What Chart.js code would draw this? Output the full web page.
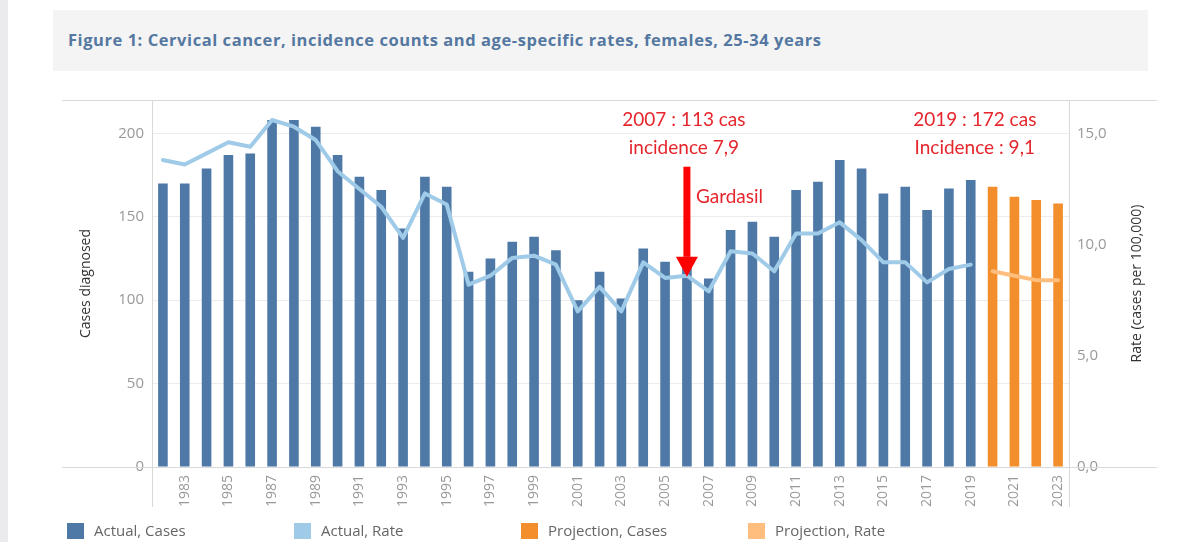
<!DOCTYPE html>
<html>
<head>
<meta charset="utf-8">
<script src="https://cdn.jsdelivr.net/npm/chart.js@4.4.1/dist/chart.umd.min.js"></script>
<style>
  html, body { margin:0; padding:0; background:#ffffff; }
  body { width:1198px; height:542px; position:relative; overflow:hidden; font-family:"Open Sans", sans-serif; }
  #strip { position:absolute; left:0; top:0; width:8px; height:542px; background:#ebebed; }
  #titlebox { position:absolute; left:53px; top:10px; width:1095px; height:61px; background:#f4f4f4; }
  #title { position:absolute; left:15px; top:18px; font-family:"Open Sans", sans-serif; font-weight:700; font-size:16.5px; letter-spacing:0.55px; color:#5478a1; white-space:nowrap; }
  #c { position:absolute; left:0; top:0; }
  .leg { position:absolute; top:523px; height:16px; font-family:"Open Sans", sans-serif; font-size:15px; color:#666; white-space:nowrap; }
  .leg span.sw { position:absolute; left:0; top:0; width:17px; height:16px; }
  .leg span.tx { position:absolute; left:27px; top:-3px; line-height:20px; }
</style>
</head>
<body>
<div id="strip"></div>
<div id="titlebox"><div id="title">Figure 1: Cervical cancer, incidence counts and age-specific rates, females, 25-34 years</div></div>
<canvas id="c" width="1198" height="542"></canvas>
<div id="legend"></div>
<script>
// ---- Data ----
const years = ['1982','1983','1984','1985','1986','1987','1988','1989','1990','1991',
  '1992','1993','1994','1995','1996','1997','1998','1999','2000','2001',
  '2002','2003','2004','2005','2006','2007','2008','2009','2010','2011',
  '2012','2013','2014','2015','2016','2017','2018','2019','2020','2021',
  '2022','2023'];
const actualYears = years.slice(0, 38);      // 1982-2019
const projectionYears = ['2020','2021','2022','2023'];
const actualCases = [170,170,179,187,188,208,208,204,187,174,
  166,143,174,168,117,125,135,138,130,100,
  117,101,131,123,120,113,142,147,138,166,
  171,184,179,164,168,154,167,172];
const actualRate = [13.8,13.6,14.1,14.6,14.4,15.6,15.3,14.7,13.3,12.5,
  11.7,10.3,12.3,11.8,8.2,8.6,9.4,9.5,9.1,7.0,
  8.1,7.0,9.2,8.5,8.6,7.9,9.7,9.6,8.8,10.5,
  10.5,11.0,10.2,9.2,9.2,8.3,8.9,9.1];
const projectionCases = [168,162,160,158];
const projectionRate = [8.8,8.6,8.4,8.4];
const casesTicks = [0,50,100,150,200];
const rateTicks = [0,5,10,15];
const seriesNames = ['Actual, Cases','Actual, Rate','Projection, Cases','Projection, Rate'];
const rateTitle = 'Rate (cases per 100,000)';
const colors = {actualCases:'#4e79a7', actualRate:'#a0cbe8', projCases:'#f28e2b', projRate:'#ffbe7d'};
const annotations = [
  {year:'2006', lines:['2007 : 113 cas','incidence 7,9'], arrow:true, arrowFrom:180, arrowTo:114, note:'Gardasil'},
  {year:'2019', lines:['2019 : 172 cas','Incidence : 9,1'], arrow:false}
];

// Build full-length series aligned to categories
function align(srcYears, vals){
  return years.map(y => { const i = srcYears.indexOf(y); return i >= 0 ? vals[i] : null; });
}

// ---- Plugins ----
const frame = {
  id:'frame',
  beforeDatasetsDraw(chart){
    const {ctx, chartArea:a} = chart;
    ctx.save();
    ctx.strokeStyle = '#d9d9d9';
    ctx.lineWidth = 1;
    ctx.beginPath();
    ctx.moveTo(62, a.top + 0.5); ctx.lineTo(1157, a.top + 0.5);
    ctx.moveTo(62, a.bottom + 0.5); ctx.lineTo(1157, a.bottom + 0.5);
    ctx.moveTo(a.left + 0.5, a.top); ctx.lineTo(a.left + 0.5, a.bottom + 40);
    ctx.moveTo(a.right + 0.5, a.top); ctx.lineTo(a.right + 0.5, a.bottom + 40);
    ctx.stroke();
    // right axis title, reading bottom-to-top
    ctx.fillStyle = '#333';
    ctx.font = '14px "Open Sans", sans-serif';
    ctx.textAlign = 'center';
    ctx.textBaseline = 'middle';
    ctx.translate(a.right + 68, (a.top + a.bottom) / 2);
    ctx.rotate(-Math.PI / 2);
    ctx.fillText(rateTitle, 0, 0);
    ctx.restore();
  }
};
const annot = {
  id:'annot',
  afterDatasetsDraw(chart){
    const {ctx, chartArea:a, scales:{x, y}} = chart;
    ctx.save();
    ctx.fillStyle = '#e5262d';
    ctx.textAlign = 'center';
    ctx.textBaseline = 'middle';
    ctx.font = '19px Lato, "Open Sans", sans-serif';
    annotations.forEach(an => {
      const px = x.getPixelForValue(years.indexOf(an.year)) + (an.arrow ? -3 : 4);
      an.lines.forEach((t, i) => ctx.fillText(t, px, a.top + 20 + i * 28));
      if (an.arrow){
        const ax = x.getPixelForValue(years.indexOf(an.year));
        const y0 = y.getPixelForValue(an.arrowFrom);
        const y1 = y.getPixelForValue(an.arrowTo);
        ctx.fillStyle = '#ff0000';
        ctx.fillRect(ax - 3.5, y0, 7, (y1 - 20) - y0);
        ctx.beginPath();
        ctx.moveTo(ax - 11, y1 - 20);
        ctx.lineTo(ax + 11, y1 - 20);
        ctx.lineTo(ax, y1);
        ctx.closePath();
        ctx.fill();
        ctx.fillStyle = '#e5262d';
        ctx.textAlign = 'left';
        ctx.fillText(an.note, ax + 9, a.top + 97);
        ctx.textAlign = 'center';
      }
    });
    ctx.restore();
  }
};

// ---- Chart ----
new Chart(document.getElementById('c'), {
  data: {
    labels: years,
    datasets: [
      {type:'line', label:seriesNames[1], data:align(actualYears, actualRate), yAxisID:'y1',
        borderColor:colors.actualRate, borderWidth:4, pointRadius:0, tension:0, borderCapStyle:'round', borderJoinStyle:'round', spanGaps:false, order:0},
      {type:'line', label:seriesNames[3], data:align(projectionYears, projectionRate), yAxisID:'y1',
        borderColor:colors.projRate, borderWidth:4, pointRadius:0, tension:0, borderCapStyle:'round', borderJoinStyle:'round', spanGaps:false, order:0},
      {type:'bar', label:seriesNames[0], data:align(actualYears, actualCases), yAxisID:'y',
        backgroundColor:colors.actualCases, grouped:false, barPercentage:0.44, categoryPercentage:1, order:1},
      {type:'bar', label:seriesNames[2], data:align(projectionYears, projectionCases), yAxisID:'y',
        backgroundColor:colors.projCases, grouped:false, barPercentage:0.44, categoryPercentage:1, order:1}
    ]
  },
  options: {
    responsive:false,
    animation:false,
    devicePixelRatio:1,
    layout:{padding:{left:74, right:48, top:100, bottom:0}},
    plugins:{legend:{display:false}, tooltip:{enabled:false}, title:{display:false}},
    scales:{
      x:{
        grid:{display:false, drawTicks:false},
        border:{display:false},
        ticks:{autoSkip:false, minRotation:90, maxRotation:90, padding:8, color:'#999',
          font:{family:'"Open Sans", sans-serif', size:14},
          callback:function(v, i){ const yr = years[i]; return (parseInt(yr) % 2 === 1) ? yr : ''; }},
        afterFit:function(s){ s.height = 75; }
      },
      y:{
        position:'left', min:0, max:220,
        grid:{color:function(c){ return c.tick.value === 0 ? 'rgba(0,0,0,0)' : '#ececec'; }, drawTicks:false},
        border:{display:false},
        afterBuildTicks:function(s){ s.ticks = casesTicks.map(v => ({value:v})); },
        ticks:{padding:8, color:'#999', font:{family:'"Open Sans", sans-serif', size:15}},
        title:{display:true, text:'Cases diagnosed', color:'#333', font:{family:'"Open Sans", sans-serif', size:14}, padding:{top:4,bottom:4}},
        afterFit:function(s){ s.width = 78; }
      },
      y1:{
        position:'right', min:0, max:16.5,
        grid:{display:false, drawTicks:false},
        border:{display:false},
        afterBuildTicks:function(s){ s.ticks = rateTicks.map(v => ({value:v})); },
        ticks:{padding:8, color:'#999', font:{family:'"Open Sans", sans-serif', size:15},
          callback:function(v){ return Number(v).toFixed(1).replace('.', ','); }},
        title:{display:false},
        afterFit:function(s){ s.width = 81; }
      }
    }
  },
  plugins:[frame, annot]
});

// ---- Legend (HTML) ----
const legItems = [
  {name:seriesNames[0], color:colors.actualCases},
  {name:seriesNames[1], color:colors.actualRate},
  {name:seriesNames[2], color:colors.projCases},
  {name:seriesNames[3], color:colors.projRate}
];
const legLeft = [67, 294, 521, 748];
const legend = document.getElementById('legend');
legItems.forEach((it, i) => {
  const d = document.createElement('div');
  d.className = 'leg';
  d.style.left = legLeft[i] + 'px';
  d.innerHTML = '<span class="sw" style="background:' + it.color + '"></span><span class="tx">' + it.name + '</span>';
  legend.appendChild(d);
});
</script>
</body>
</html>
